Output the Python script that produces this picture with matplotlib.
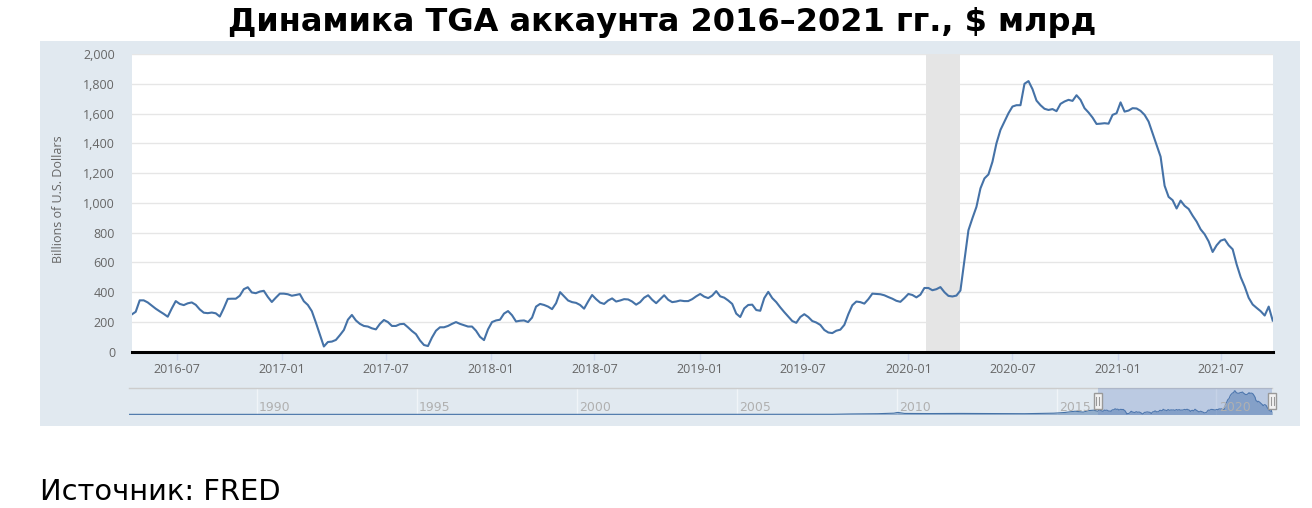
import matplotlib
matplotlib.use('Agg')
import matplotlib.pyplot as plt
import matplotlib.dates as mdates
from matplotlib.patches import Rectangle
from matplotlib.lines import Line2D
from matplotlib.transforms import IdentityTransform
import pandas as pd

# ---------------- data ----------------
TITLE = 'Динамика TGA аккаунта 2016–2021 гг., $ млрд'
SOURCE = 'Источник: FRED'
Y_LABEL = 'Billions of U.S. Dollars'

series_start = '2016-04-13'  # first weekly observation (Wednesday)
tga_weekly = [
    250, 268, 345, 345, 331, 310, 289, 271, 254, 235,
    290, 340, 321, 313, 325, 331, 315, 284, 262, 259,
    263, 258, 236, 292, 355, 356, 356, 376, 420, 433,
    398, 393, 404, 409, 368, 334, 363, 390, 390, 386,
    376, 381, 387, 339, 314, 272, 196, 116, 35,
    65, 68, 79, 111, 146, 215, 247, 210, 187, 173,
    169, 157, 150, 187, 213, 199, 173, 173, 185, 187,
    164, 139, 118, 76, 45, 38, 95, 141, 164, 164,
    173, 187, 199, 187, 178, 169, 169, 141, 100, 78,
    150, 199, 210, 215, 256, 273, 245, 203,
    208, 210, 199, 229, 303, 321, 314, 303, 286, 326,
    400, 372, 344, 333, 328, 314, 289, 337, 381, 353,
    330, 321, 344, 358, 337, 344, 353, 351, 337, 316,
    333, 363, 379, 349, 326, 353, 379, 349, 333, 337,
    344, 340, 340, 353, 372, 388, 370, 360,
    377, 407, 372, 363, 344, 321, 256, 233, 291, 314,
    316, 280, 275, 360, 402, 360, 333, 298, 266, 236,
    206, 194, 233, 252, 233, 206, 196, 180, 146, 129,
    125, 141, 148, 180, 252, 312, 337, 333, 323, 353,
    390, 388, 386, 379, 367, 356, 342, 335, 360, 388,
    381, 365, 383, 428, 428,
    413, 420, 434, 400, 375, 371, 377, 411, 613, 816,
    897, 973, 1097, 1164, 1191, 1276, 1400, 1490, 1546, 1602,
    1647, 1656, 1656, 1800, 1818, 1764, 1687, 1656, 1632,
    1624, 1630, 1616, 1665, 1681, 1692, 1685, 1723, 1692, 1636,
    1607, 1573, 1530, 1532, 1535, 1532, 1591, 1602, 1675, 1613,
    1620, 1636, 1634, 1618, 1591, 1546, 1467, 1389, 1310, 1115,
    1040, 1018, 962, 1015, 980, 959, 914, 874, 822, 789,
    741, 670, 715, 746, 755, 715, 688, 586, 501, 438,
    362, 317, 294, 272, 243, 303, 209,
]
x_tick_labels = ['2016-07', '2017-01', '2017-07', '2018-01', '2018-07', '2019-01',
                 '2019-07', '2020-01', '2020-07', '2021-01', '2021-07']
y_ticks = [0, 200, 400, 600, 800, 1000, 1200, 1400, 1600, 1800, 2000]
recession_start = '2020-02-01'
recession_end = '2020-04-01'

# navigator: earlier history (coarse reading of the mini chart)
history_dates = ['1986-01-08', '1990-01-01', '1995-01-01', '2000-01-01', '2005-01-01',
                 '2008-01-01', '2008-08-01', '2009-06-01', '2009-12-01', '2010-01-15',
                 '2010-04-01', '2011-01-01', '2012-01-01', '2013-01-01', '2014-01-01',
                 '2014-12-01', '2015-04-01', '2015-08-01', '2015-11-01', '2016-01-06',
                 '2016-03-02']
history_values = [10, 12, 10, 10, 10,
                  15, 40, 60, 100, 160,
                  80, 70, 80, 70, 60,
                  100, 150, 250, 180, 300,
                  330]
nav_year_labels = ['1990', '1995', '2000', '2005', '2010', '2015', '2020']

# ---------------- styling ----------------
plt.rcParams['font.family'] = ['Open Sans', 'DejaVu Sans']
W, H, DPI = 1312, 508, 100
fig = plt.figure(figsize=(W / DPI, H / DPI), dpi=DPI, facecolor='white')


def fx(px):
    return px / W


def fy(py):
    return 1 - py / H


PANEL = '#e1e9f0'
LINE = '#4572a7'
GREY_TXT = '#666666'

fig.add_artist(Rectangle((fx(40), fy(426)), fx(1300) - fx(40), fy(41) - fy(426),
                         transform=fig.transFigure, facecolor=PANEL, edgecolor='none', zorder=0))

dates = pd.date_range(series_start, periods=len(tga_weekly), freq='7D')

ax = fig.add_axes([fx(131.7), fy(351.7), fx(1272.7) - fx(131.7), fy(54) - fy(351.7)])
ax.set_facecolor('white')
ax.plot(dates, tga_weekly, color=LINE, lw=1.5, zorder=3, solid_joinstyle='round')
ax.axvspan(pd.Timestamp(recession_start), pd.Timestamp(recession_end),
           color='#e5e5e5', lw=0, zorder=1)
ax.set_xlim(dates[0], dates[-1])
ax.set_ylim(0, 2000)
ax.set_yticks(y_ticks)
ax.set_yticklabels([f'{v:,}' for v in y_ticks])
ax.grid(axis='y', color='#e6e6e6', lw=1)
ax.set_axisbelow(True)
for s in ['top', 'right', 'left']:
    ax.spines[s].set_visible(False)
ax.spines['bottom'].set_color('black')
ax.spines['bottom'].set_linewidth(2.2)
ax.spines['bottom'].set_zorder(5)
tick_dates = pd.to_datetime([t + '-01' for t in x_tick_labels])
ax.set_xticks(tick_dates)
ax.set_xticklabels(x_tick_labels)
ax.tick_params(axis='x', length=6, width=1, color='#ccd6eb', pad=2,
               labelsize=9, labelcolor=GREY_TXT)
ax.tick_params(axis='y', length=0, pad=12, labelsize=9, labelcolor=GREY_TXT)

fig.text(fx(58), fy(199), Y_LABEL, rotation=90, ha='center', va='center',
         fontsize=9, color=GREY_TXT)

# ---------------- navigator ----------------
nav = fig.add_axes([fx(129.3), fy(415), fx(1272.3) - fx(129.3), fy(388.3) - fy(415)])
nav.patch.set_alpha(0)
nav_dates = pd.to_datetime(history_dates).append(dates)
nav_vals = history_values + tga_weekly
nav.fill_between(nav_dates, 0, nav_vals, color=LINE, alpha=0.5, lw=0, zorder=2)
nav.plot(nav_dates, nav_vals, color=LINE, lw=0.8, zorder=3)
nav.set_xlim(pd.Timestamp(history_dates[0]), dates[-1])
nav.set_ylim(-40, 2005)
nav.axvspan(dates[0], dates[-1], color='#6685c2', alpha=0.3, lw=0, zorder=4)
for yl in nav_year_labels:
    d = pd.Timestamp(yl + '-01-01')
    nav.axvline(d, color='#f0f4f8', lw=1, zorder=1)
    nav.text(d + pd.Timedelta(days=25), 0.28, yl, transform=nav.get_xaxis_transform(),
             ha='left', va='center', fontsize=9, color='#b0b0b0',
             family=['DejaVu Sans'], zorder=5)
nav.set_xticks([])
nav.set_yticks([])
for s in ['left', 'right', 'bottom']:
    nav.spines[s].set_visible(False)
nav.spines['top'].set_color('#cccccc')
nav.spines['top'].set_linewidth(1)

for d in (dates[0], dates[-1]):
    xd = nav.transData.transform((mdates.date2num(d), 0))[0]
    fig.add_artist(Rectangle((xd - 4, H - 409), 8, 16, transform=IdentityTransform(),
                             facecolor='#f2f2f2', edgecolor='#999999', lw=1, zorder=10))
    for off in (-1.5, 1.5):
        fig.add_artist(Line2D([xd + off, xd + off], [H - 405, H - 397],
                              transform=IdentityTransform(), color='#999999', lw=0.8, zorder=11))

# ---------------- texts ----------------
fig.text(0.505, fy(22), TITLE, ha='center', va='center', fontsize=23,
         fontweight='bold', family=['DejaVu Sans'], color='black')
fig.text(fx(40), fy(500), SOURCE, ha='left', va='baseline', fontsize=20.8,
         family=['DejaVu Sans'], color='black')

fig.savefig('out.png', dpi=DPI, facecolor='white')
